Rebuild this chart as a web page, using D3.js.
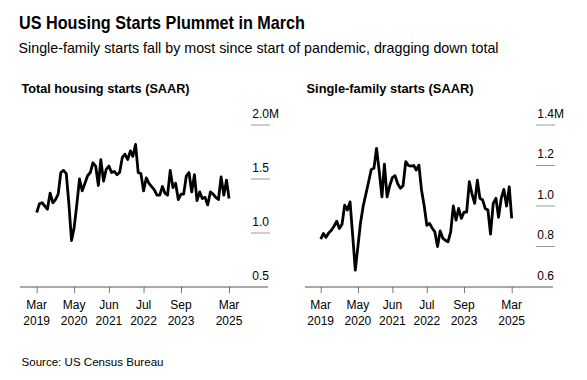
<!DOCTYPE html>
<html>
<head>
<meta charset="utf-8">
<script src="https://cdn.jsdelivr.net/npm/d3@7"></script>
<style>
  html, body { margin: 0; padding: 0; background: #fff; }
  svg { display: block; font-family: "Liberation Sans", Arial, sans-serif; }
</style>
</head>
<body>
<svg id="chart" width="587" height="380"></svg>
<script>
// ---- Data (monthly, SAAR, millions) ----
const startMonth = "2019-03";
const totalStarts = [
  1.19, 1.27, 1.28, 1.25, 1.22, 1.37, 1.28, 1.31, 1.36, 1.56,      // Mar-Dec 2019
  1.58, 1.55, 1.28, 0.93, 1.05, 1.27, 1.50, 1.39, 1.46, 1.53, 1.56, 1.65, // 2020
  1.62, 1.44, 1.68, 1.48, 1.59, 1.62, 1.56, 1.57, 1.54, 1.56, 1.70, 1.73, // 2021
  1.68, 1.76, 1.71, 1.82, 1.56, 1.55, 1.39, 1.51, 1.46, 1.43, 1.40, 1.35, // 2022
  1.35, 1.43, 1.37, 1.35, 1.58, 1.42, 1.46, 1.31, 1.36, 1.36, 1.53, 1.56, // 2023
  1.38, 1.54, 1.30, 1.38, 1.32, 1.33, 1.26, 1.38, 1.36, 1.33, 1.31, 1.52, // 2024
  1.35, 1.49, 1.32                                                   // Jan-Mar 2025
];
const singleFamily = [
  0.836, 0.864, 0.845, 0.867, 0.88, 0.90, 0.925, 0.889, 0.91, 1.004, // Mar-Dec 2019
  0.98, 1.02, 0.86, 0.683, 0.80, 0.92, 1.00, 1.06, 1.12, 1.18, 1.186, 1.285, // 2020
  1.17, 1.045, 1.207, 1.045, 1.10, 1.14, 1.15, 1.11, 1.087, 1.10, 1.219, 1.20, // 2021
  1.197, 1.20, 1.178, 1.202, 1.079, 1.00, 0.905, 0.914, 0.89, 0.872, 0.80, 0.877, // 2022
  0.84, 0.83, 0.823, 0.872, 1.00, 0.93, 0.988, 0.939, 0.97, 0.97, 1.12, 1.06, // 2023
  1.013, 1.128, 1.038, 1.03, 0.988, 0.98, 0.861, 1.013, 1.038, 0.944, 1.038, 1.082, // 2024
  1.00, 1.095, 0.939                                                 // Jan-Mar 2025
];
const xTickDates = ["2019-03", "2020-05", "2021-06", "2022-07", "2023-09", "2025-03"];
const totalTicks = [0.5, 1.0, 1.5, 2.0];
const singleTicks = [0.6, 0.8, 1.0, 1.2, 1.4];

const title = "US Housing Starts Plummet in March";
const subtitle = "Single-family starts fall by most since start of pandemic, dragging down total";
const source = "Source: US Census Bureau";

// ---- Build ----
const parse = d3.timeParse("%Y-%m");
const t0 = parse(startMonth);
const toSeries = vals => vals.map((v, i) => ({ date: d3.timeMonth.offset(t0, i), value: v }));

const svg = d3.select("#chart");

svg.append("text").attr("x", 19).attr("y", 29)
  .attr("font-size", 18.5).attr("font-weight", "bold").attr("fill", "#000")
  .attr("textLength", 286).attr("lengthAdjust", "spacingAndGlyphs")
  .text(title);
svg.append("text").attr("x", 18.5).attr("y", 52.5)
  .attr("font-size", 14.5).attr("fill", "#000")
  .attr("textLength", 480).attr("lengthAdjust", "spacingAndGlyphs")
  .text(subtitle);
svg.append("text").attr("x", 21.5).attr("y", 366)
  .attr("font-size", 11.5).attr("fill", "#000")
  .attr("textLength", 142).attr("lengthAdjust", "spacingAndGlyphs")
  .text(source);

const panels = [
  { x0: 20, title: "Total housing starts (SAAR)", tl: 168, data: toSeries(totalStarts),
    domain: [0.5, 2.0], ticks: totalTicks, fmt: d3.format(".1f"), xr: [36.7, 229] },
  { x0: 305, title: "Single-family starts (SAAR)", tl: 167, data: toSeries(singleFamily),
    domain: [0.6, 1.4], ticks: singleTicks, fmt: d3.format(".1f"), xr: [320.7, 511.7] }
];

const yTop = 125, yBot = 287;

panels.forEach(p => {
  const g = svg.append("g");
  g.append("text").attr("x", p.x0 + 1.5).attr("y", 92.5)
    .attr("font-size", 13).attr("font-weight", "bold").attr("fill", "#000")
    .attr("textLength", p.tl).attr("lengthAdjust", "spacingAndGlyphs")
    .text(p.title);

  const x = d3.scaleTime()
    .domain([parse(xTickDates[0]), parse(xTickDates[xTickDates.length - 1])])
    .range(p.xr);
  const y = d3.scaleLinear().domain(p.domain).range([yBot, yTop]);

  const topTick = p.ticks[p.ticks.length - 1];
  p.ticks.forEach(t => {
    if (t !== p.ticks[0]) {
      g.append("line")
        .attr("x1", p.x0 + 231).attr("x2", p.x0 + 250)
        .attr("y1", y(t)).attr("y2", y(t))
        .attr("stroke", "#9a9a9a").attr("stroke-width", 1);
    }
    g.append("text")
      .attr("x", p.x0 + 249).attr("y", y(t) - 7.5)
      .attr("font-size", 12).attr("fill", "#000")
      .attr("text-anchor", "end")
      .text(p.fmt(t));
    if (t === topTick) {
      g.append("text").attr("x", p.x0 + 249).attr("y", y(t) - 7.5)
        .attr("font-size", 12).attr("fill", "#000").text("M");
    }
  });

  const axis = d3.axisBottom(x)
    .tickValues(xTickDates.map(parse))
    .tickSize(6)
    .tickFormat(() => "");
  const ag = g.append("g").attr("transform", `translate(0,${yBot})`).call(axis);
  ag.select(".domain").remove();
  ag.selectAll(".tick line").attr("stroke", "#777").attr("stroke-width", 1);
  g.append("line").attr("x1", p.x0).attr("x2", p.x0 + 248)
    .attr("y1", yBot).attr("y2", yBot)
    .attr("stroke", "#555").attr("stroke-width", 1);

  xTickDates.forEach(d => {
    const dt = parse(d);
    const tx = x(dt);
    g.append("text").attr("x", tx).attr("y", 309)
      .attr("font-size", 12).attr("text-anchor", "middle").attr("fill", "#000")
      .text(d3.timeFormat("%b")(dt));
    g.append("text").attr("x", tx).attr("y", 325)
      .attr("font-size", 12).attr("text-anchor", "middle").attr("fill", "#000")
      .text(d3.timeFormat("%Y")(dt));
  });

  const line = d3.line().x(d => x(d.date)).y(d => y(d.value));
  g.append("path").datum(p.data)
    .attr("d", line)
    .attr("fill", "none").attr("stroke", "#000")
    .attr("stroke-width", 2.8).attr("stroke-linejoin", "round");
});
</script>
</body>
</html>
